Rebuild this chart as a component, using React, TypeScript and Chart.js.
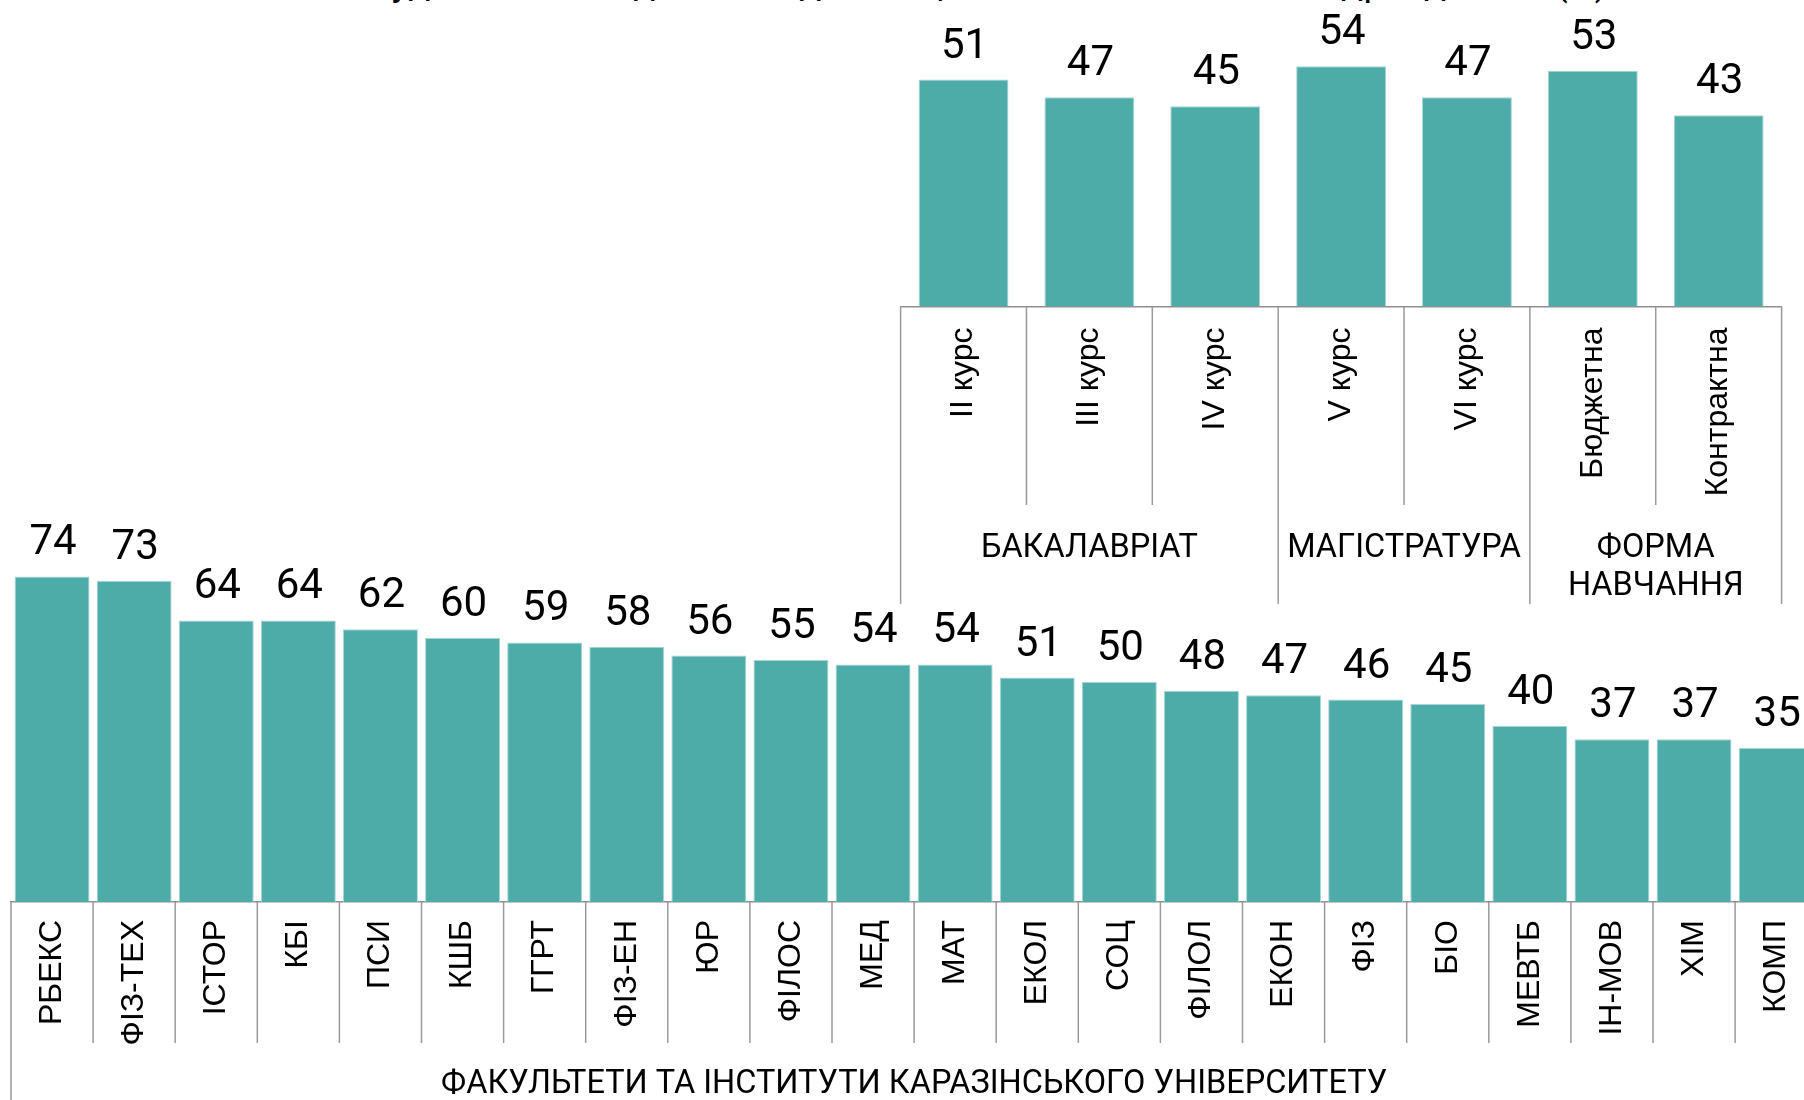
import React, { useEffect, useRef } from 'react';
import { Chart, registerables } from 'chart.js';

Chart.register(...registerables);

// ---------- DATA ----------
const titleText = 'Частка студентів, які задоволені дистанційним навчанням, за підрозділами (%)';

const facultyLabels = ['РБЕКС', 'ФІЗ-ТЕХ', 'ІСТОР', 'КБІ', 'ПСИ', 'КШБ', 'ГГРТ', 'ФІЗ-ЕН', 'ЮР', 'ФІЛОС', 'МЕД', 'МАТ', 'ЕКОЛ', 'СОЦ', 'ФІЛОЛ', 'ЕКОН', 'ФІЗ', 'БІО', 'МЕВТБ', 'ІН-МОВ', 'ХІМ', 'КОМП'];
const facultyValues = [74, 73, 64, 64, 62, 60, 59, 58, 56, 55, 54, 54, 51, 50, 48, 47, 46, 45, 40, 37, 37, 35];
const facultyGroupNames = [['ФАКУЛЬТЕТИ ТА ІНСТИТУТИ КАРАЗІНСЬКОГО УНІВЕРСИТЕТУ']];
const facultyGroupSizes = [22];

const courseLabels = ['II курс', 'III курс', 'IV курс', 'V курс', 'VI курс', 'Бюджетна', 'Контрактна'];
const courseValues = [51, 47, 45, 54, 47, 53, 43];
const courseGroupNames = [['БАКАЛАВРІАТ'], ['МАГІСТРАТУРА'], ['ФОРМА', 'НАВЧАННЯ']];
const courseGroupSizes = [3, 2, 2];

// ---------- STYLE ----------
const BAR_COLOR = '#4eaca8';
const BAR_EDGE = '#a6d7d3';
const AXIS_COLOR = '#8f8f8f';
const SEP_COLOR = '#9a9a9a';

type GroupCfg = {
  names: string[][];
  sizes: number[];
  innerLen: number;
  groupLen: number;
  labelOffset: number;
  lineGap: number;
};

function makeGroupPlugin(cfg: GroupCfg) {
  return {
    id: 'groupAxis',
    afterDraw(chart: any) {
      const ctx = chart.ctx;
      const xs = chart.scales.x;
      const y0 = xs.top;
      const n = chart.data.labels.length;
      const edges = new Set<number>();
      let acc = 0;
      edges.add(0);
      cfg.sizes.forEach((s) => {
        acc += s;
        edges.add(acc);
      });
      ctx.save();
      ctx.strokeStyle = SEP_COLOR;
      ctx.lineWidth = 1.5;
      for (let i = 0; i <= n; i++) {
        const px = xs.getPixelForValue(i - 0.5);
        const len = edges.has(i) ? cfg.groupLen : cfg.innerLen;
        ctx.beginPath();
        ctx.moveTo(px, y0);
        ctx.lineTo(px, y0 + len);
        ctx.stroke();
      }
      ctx.fillStyle = '#000';
      ctx.font = '32.5px Roboto';
      ctx.textAlign = 'center';
      ctx.textBaseline = 'middle';
      let start = 0;
      cfg.sizes.forEach((s, gi) => {
        const a = xs.getPixelForValue(start - 0.5);
        const b = xs.getPixelForValue(start + s - 0.5);
        const cx = (a + b) / 2;
        cfg.names[gi].forEach((t, k) => {
          ctx.fillText(t, cx, y0 + cfg.labelOffset + k * cfg.lineGap);
        });
        start += s;
      });
      ctx.restore();
    },
  };
}

const valueLabelPlugin = {
  id: 'valueLabels',
  afterDatasetsDraw(chart: any) {
    const ctx = chart.ctx;
    const meta = chart.getDatasetMeta(0);
    const data = chart.data.datasets[0].data;
    ctx.save();
    ctx.fillStyle = '#000';
    ctx.font = '42px Roboto';
    ctx.textAlign = 'center';
    ctx.textBaseline = 'alphabetic';
    meta.data.forEach((bar: any, i: number) => {
      ctx.fillText(String(data[i]), bar.x + 1, bar.y - 22);
    });
    ctx.restore();
  },
};

type ChartCfg = {
  labels: string[];
  values: number[];
  barPct: number;
  yMax: number;
  axisHeight: number;
  padding: { left: number; right: number; top: number; bottom: number };
  tickPadding: number;
  group: GroupCfg;
};

function BarPanel(props: { cfg: ChartCfg; width: number; height: number; style: React.CSSProperties }) {
  const ref = useRef<HTMLCanvasElement | null>(null);
  const { cfg, width, height, style } = props;
  useEffect(() => {
    if (!ref.current) return;
    const chart = new Chart(ref.current, {
      type: 'bar',
      data: {
        labels: cfg.labels,
        datasets: [
          {
            data: cfg.values,
            backgroundColor: BAR_COLOR,
            borderColor: BAR_EDGE,
            borderWidth: 1,
            categoryPercentage: 1,
            barPercentage: cfg.barPct,
          },
        ],
      },
      options: {
        responsive: false,
        animation: false,
        devicePixelRatio: 1,
        layout: { padding: cfg.padding },
        plugins: {
          legend: { display: false },
          tooltip: { enabled: false },
          title: { display: false },
        },
        scales: {
          x: {
            grid: { display: false },
            border: { display: true, color: AXIS_COLOR, width: 1.5 },
            ticks: {
              autoSkip: false,
              minRotation: 90,
              maxRotation: 90,
              padding: cfg.tickPadding,
              color: '#000',
              font: { family: '"Liberation Sans", Arial, sans-serif', size: 32 },
            },
            afterFit: (s: any) => {
              s.height = cfg.axisHeight;
            },
          },
          y: { display: false, min: 0, max: cfg.yMax },
        },
      },
      plugins: [valueLabelPlugin, makeGroupPlugin(cfg.group)],
    });
    return () => chart.destroy();
  }, []);
  return <canvas ref={ref} width={width} height={height} style={{ position: 'absolute', width, height, ...style }} />;
}

// bottom chart: canvas at page y=400, 1830 wide; axis at page y=902; 4.40 px per unit
const bottomCfg: ChartCfg = {
  labels: facultyLabels,
  values: facultyValues,
  barPct: 0.913,
  yMax: 100,
  axisHeight: 198,
  padding: { left: 11, right: 12.8, top: 62, bottom: 0 },
  tickPadding: 10,
  group: {
    names: facultyGroupNames,
    sizes: facultyGroupSizes,
    innerLen: 141,
    groupLen: 200,
    labelOffset: 182.5,
    lineGap: 38,
  },
};

// top chart: canvas at page x=880, y=0; axis at page y=306.5; 4.45 px per unit
const topCfg: ChartCfg = {
  labels: courseLabels,
  values: courseValues,
  barPct: 0.714,
  yMax: 60,
  axisHeight: 313.5,
  padding: { left: 20.6, right: 22.4, top: 39.5, bottom: 0 },
  tickPadding: 13,
  group: {
    names: courseGroupNames,
    sizes: courseGroupSizes,
    innerLen: 198.5,
    groupLen: 297.5,
    labelOffset: 242,
    lineGap: 38,
  },
};

export default function App() {
  return (
    <div
      style={{
        position: 'fixed',
        left: 0,
        top: 0,
        width: 1804,
        height: 1100,
        overflow: 'hidden',
        background: '#fff',
      }}
    >
      <div
        style={{
          position: 'absolute',
          left: 0,
          top: -36,
          width: 1830,
          textAlign: 'center',
          fontFamily: 'Roboto, sans-serif',
          fontSize: 37,
          lineHeight: '37px',
          color: '#000',
          whiteSpace: 'nowrap',
        }}
      >
        {titleText}
      </div>
      <BarPanel cfg={bottomCfg} width={1830} height={700} style={{ left: 0, top: 400 }} />
      <BarPanel cfg={topCfg} width={924} height={620} style={{ left: 880, top: 0 }} />
    </div>
  );
}
